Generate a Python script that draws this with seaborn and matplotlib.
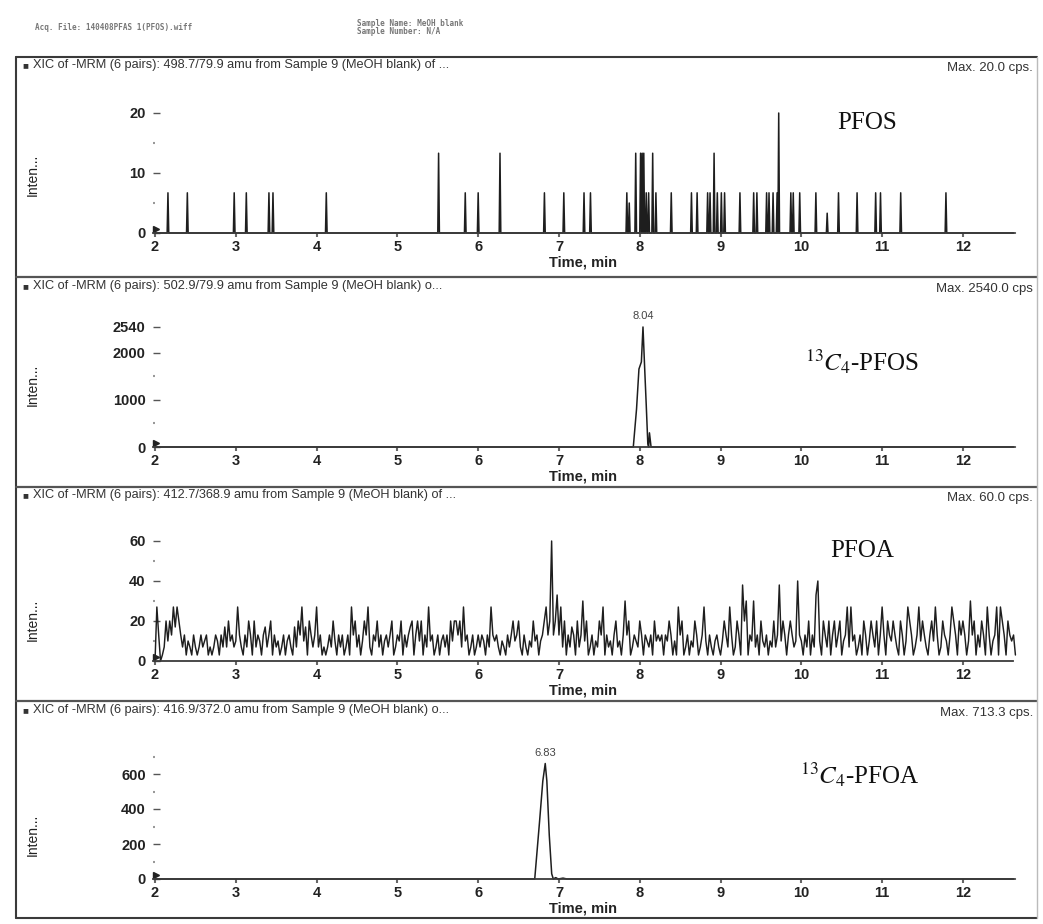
import numpy as np
import pandas as pd
import matplotlib
matplotlib.use("Agg")
import matplotlib.pyplot as plt
import seaborn as sns
from matplotlib.lines import Line2D

# ---------------- data ----------------
time_ticks = [2, 3, 4, 5, 6, 7, 8, 9, 10, 11, 12]
t_start, t_end = 2.0, 12.65

# PFOS (498.7/79.9): isolated single-scan spikes (time, cps)
pfos_spike_t = [2.16, 2.40, 2.98, 3.13, 3.41, 3.46, 4.12, 5.51, 5.84, 6.00, 6.27,
                6.82, 7.06, 7.31, 7.39, 7.84, 7.87, 7.95, 8.01, 8.03, 8.05, 8.08,
                8.11, 8.16, 8.20, 8.39, 8.64, 8.71, 8.84, 8.87, 8.92, 8.96, 9.01,
                9.05, 9.24, 9.41, 9.45, 9.57, 9.60, 9.65, 9.70, 9.72, 9.87, 9.90,
                9.98, 10.18, 10.32, 10.46, 10.69, 10.92, 10.98, 11.23, 11.79]
pfos_spike_h = [6.7, 6.7, 6.7, 6.7, 6.7, 6.7, 6.7, 13.3, 6.7, 6.7, 13.3,
                6.7, 6.7, 6.7, 6.7, 6.7, 5.0, 13.3, 13.3, 13.3, 13.3, 6.7,
                6.7, 13.3, 6.7, 6.7, 6.7, 6.7, 6.7, 6.7, 13.3, 6.7, 6.7,
                6.7, 6.7, 6.7, 6.7, 6.7, 6.7, 6.7, 6.7, 20.0, 6.7, 6.7,
                6.7, 6.7, 3.3, 6.7, 6.7, 6.7, 6.7, 6.7, 6.7]

# 13C4-PFOS (502.9/79.9)
pfos13_t = [2.00, 7.92, 7.96, 7.99, 8.02, 8.04, 8.06, 8.08, 8.10, 8.11, 8.12, 8.14, 12.65]
pfos13_y = [0, 0, 800, 1650, 1800, 2540, 1700, 900, 60, 0, 300, 0, 0]

# PFOA (412.7/368.9): noisy trace, one list per minute
pfoa_2 = [0, 27, 13, 0, 3, 7, 20, 10, 20, 13, 27, 17, 27, 20, 13, 7, 13, 3, 10, 7, 3, 13,
          7, 3, 7, 13, 7, 10, 13, 3, 7, 3, 7, 13, 10, 3, 13, 7, 17, 7, 20, 10, 13, 7]
pfoa_3 = [10, 27, 13, 7, 3, 13, 7, 20, 13, 3, 20, 7, 13, 10, 3, 13, 17, 7, 13, 20, 3, 13,
          7, 10, 3, 7, 13, 3, 10, 13, 7, 3, 17, 7, 20, 13, 27, 10, 17, 3, 20, 13, 7, 13]
pfoa_4 = [27, 7, 13, 3, 7, 3, 7, 13, 7, 20, 10, 3, 13, 7, 13, 3, 7, 13, 3, 27, 13, 20,
          7, 13, 3, 10, 20, 13, 27, 7, 3, 13, 10, 20, 7, 13, 3, 10, 13, 7, 13, 20, 3, 7]
pfoa_5 = [13, 10, 20, 3, 13, 7, 13, 17, 20, 3, 13, 20, 10, 20, 3, 13, 7, 27, 10, 13, 3, 7,
          13, 3, 10, 13, 7, 13, 3, 20, 10, 20, 20, 13, 20, 7, 27, 10, 13, 3, 7, 13, 3, 7]
pfoa_6 = [13, 7, 13, 10, 3, 13, 7, 27, 13, 10, 13, 7, 3, 10, 7, 3, 13, 7, 13, 20, 10, 13,
          20, 7, 3, 13, 7, 3, 10, 7, 20, 10, 13, 3, 10, 13, 20, 27, 13, 20, 60, 13, 20, 33]
pfoa_7 = [13, 27, 7, 20, 3, 13, 7, 17, 13, 3, 20, 7, 13, 30, 10, 20, 3, 7, 13, 3, 10, 7,
          20, 13, 27, 3, 13, 7, 10, 3, 13, 20, 7, 10, 3, 13, 30, 13, 20, 3, 7, 13, 10, 7]
pfoa_8 = [20, 13, 3, 13, 10, 7, 13, 3, 20, 10, 13, 10, 13, 3, 13, 10, 20, 13, 3, 10, 3, 27,
          13, 20, 3, 7, 13, 3, 10, 7, 20, 13, 3, 7, 13, 27, 10, 3, 13, 7, 3, 10, 13, 7]
pfoa_9 = [3, 10, 20, 13, 7, 27, 13, 3, 7, 20, 13, 3, 38, 20, 30, 3, 13, 10, 30, 7, 13, 3,
          20, 10, 7, 13, 3, 10, 7, 20, 7, 13, 38, 10, 20, 13, 3, 13, 20, 13, 7, 10, 40, 13]
pfoa_10 = [10, 3, 13, 7, 20, 3, 13, 7, 33, 40, 10, 3, 20, 13, 7, 20, 3, 13, 20, 7, 13, 20,
           3, 10, 13, 27, 7, 27, 10, 13, 3, 7, 13, 3, 20, 13, 3, 10, 20, 13, 7, 20, 3, 13]
pfoa_11 = [27, 13, 3, 20, 13, 10, 20, 13, 7, 3, 20, 13, 3, 10, 27, 20, 13, 3, 7, 13, 27, 10,
           20, 13, 7, 3, 13, 20, 10, 27, 13, 3, 7, 20, 13, 10, 3, 13, 27, 20, 13, 3, 20, 13]
pfoa_12 = [20, 13, 3, 10, 30, 13, 20, 3, 13, 7, 20, 13, 3, 27, 13, 3, 10, 13, 27, 3, 27, 20,
           13, 3, 20, 13, 10, 13, 3]

# 13C4-PFOA (416.9/372.0)
pfoa13_t = [2.00, 6.70, 6.76, 6.80, 6.83, 6.85, 6.88, 6.91, 6.93, 6.96, 6.99, 7.05, 7.10, 12.65]
pfoa13_y = [0, 0, 330, 560, 660, 560, 250, 30, 0, 8, 0, 5, 0, 0]

headers = [
    "XIC of -MRM (6 pairs): 498.7/79.9 amu from Sample 9 (MeOH blank) of ...",
    "XIC of -MRM (6 pairs): 502.9/79.9 amu from Sample 9 (MeOH blank) o...",
    "XIC of -MRM (6 pairs): 412.7/368.9 amu from Sample 9 (MeOH blank) of ...",
    "XIC of -MRM (6 pairs): 416.9/372.0 amu from Sample 9 (MeOH blank) o...",
]
max_labels = ["Max. 20.0 cps.", "Max. 2540.0 cps", "Max. 60.0 cps.", "Max. 713.3 cps."]
compound_labels = ["PFOS", r"$^{13}C_{4}$-PFOS", "PFOA", r"$^{13}C_{4}$-PFOA"]
peak_labels = [None, (8.04, 2540), None, (6.83, 660)]

# ---------------- build traces ----------------
w = 0.010
px, py = [t_start], [0.0]
for t, h in zip(pfos_spike_t, pfos_spike_h):
    px += [t - w, t, t + w]
    py += [0.0, h, 0.0]
px.append(t_end); py.append(0.0)
df_pfos = pd.DataFrame({"t": px, "y": py})

df_pfos13 = pd.DataFrame({"t": pfos13_t, "y": pfos13_y})

segs_t, segs_y = [], []
for m, vals in zip(range(2, 12), [pfoa_2, pfoa_3, pfoa_4, pfoa_5, pfoa_6, pfoa_7,
                                   pfoa_8, pfoa_9, pfoa_10, pfoa_11]):
    segs_t.append(np.linspace(m, m + 1, len(vals), endpoint=False))
    segs_y.append(np.array(vals, float))
segs_t.append(np.linspace(12, t_end, len(pfoa_12)))
segs_y.append(np.array(pfoa_12, float))
df_pfoa = pd.DataFrame({"t": np.concatenate(segs_t), "y": np.concatenate(segs_y)})

df_pfoa13 = pd.DataFrame({"t": pfoa13_t, "y": pfoa13_y})

# ---------------- style ----------------
sns.set_style("white")
plt.rcParams["font.family"] = ["Liberation Sans", "DejaVu Sans"]
plt.rcParams["mathtext.fontset"] = "stix"

W, H = 1043, 924
fig = plt.figure(figsize=(W / 100, H / 100), dpi=100)
fig.patch.set_facecolor("white")

def fx(x):
    return x / W

def fy(y):
    return 1 - y / H

left_px, right_px = 152.6, 1013.0
xlim = (1.97, 12.62)

panels = [
    (233, 101, (0, 22), [0, 10, 20], [5, 15], 0.44, 65),
    (447, 314.7, (0, 2800), [0, 1000, 2000, 2540], [500, 1500], 0.47, 286),
    (661, 531, (0, 65), [0, 20, 40, 60], [10, 30, 50], 0.32, 495),
    (879, 749.5, (0, 740), [0, 200, 400, 600], [100, 300, 500, 700], 0.34, 710),
]
dfs = [df_pfos, df_pfos13, df_pfoa, df_pfoa13]
lws = [1.1, 1.1, 1.05, 1.1]
label_pos = [(867, 123), (862, 362), (862, 551), (860, 775)]

line_col = "#1e1e1e"
for i, (base, top, ylim, yt, ymin, ylab_y, hy) in enumerate(panels):
    ax = fig.add_axes([fx(left_px), fy(base), fx(right_px - left_px), (base - top) / H])
    sns.lineplot(data=dfs[i], x="t", y="y", ax=ax, color=line_col, linewidth=lws[i],
                 estimator=None, sort=False, clip_on=False)
    ax.set_xlim(*xlim)
    ax.set_ylim(*ylim)
    ax.set_facecolor("none")
    for s in ["left", "top", "right"]:
        ax.spines[s].set_visible(False)
    ax.spines["bottom"].set_color("#3a3a3a")
    ax.spines["bottom"].set_linewidth(1.3)
    ax.set_xticks(time_ticks)
    ax.set_xticklabels([str(t) for t in time_ticks], fontsize=10.5, fontweight="bold",
                       color="#222222")
    ax.tick_params(axis="x", bottom=True, length=3, width=1.5, pad=2, color="#666666",
                   direction="out")
    ax.set_yticks(yt)
    ax.set_yticklabels([str(v) for v in yt], fontsize=10.5, fontweight="bold",
                       color="#222222")
    ax.tick_params(axis="y", left=True, length=5, width=1.0, pad=5, color="#555555",
                   direction="in")
    ax.set_yticks(ymin, minor=True)
    ax.tick_params(axis="y", which="minor", left=True, length=1.5, width=1.5,
                   color="#999999", direction="in")
    ax.set_xlabel("Time, min", fontsize=10.5, fontweight="bold", color="#222222",
                  labelpad=1)
    ax.set_ylabel("Inten...", fontsize=10, color="#222222")
    ax.yaxis.set_label_coords(-0.131, ylab_y)
    ax.grid(False)
    ax.plot([0.004], [0.03], marker=">", markersize=4.5, color="#222222",
            transform=ax.transAxes, clip_on=False)
    fig.text(fx(22), fy(hy), "\u25A0", fontsize=7, color="#333333", va="center")
    fig.text(fx(33), fy(hy), headers[i], fontsize=9.2, color="#333333", va="center")
    fig.text(fx(1033), fy(hy + 3), max_labels[i], fontsize=9.5, color="#333333",
             va="center", ha="right")
    fig.text(fx(label_pos[i][0]), fy(label_pos[i][1]), compound_labels[i],
             fontsize=18, family="Liberation Serif", ha="center", va="center",
             color="#111111")
    if peak_labels[i] is not None:
        pt, pv = peak_labels[i]
        ax.annotate(f"{pt:.2f}", xy=(pt, pv), xytext=(0, 4), textcoords="offset points",
                    ha="center", va="bottom", fontsize=8, color="#444444")

frame_kw = dict(transform=fig.transFigure, color="#3a3a3a", linewidth=1.5)
fig.add_artist(Line2D([fx(16), fx(16)], [fy(57), fy(918)], **frame_kw))
fig.add_artist(Line2D([fx(16), fx(1037)], [fy(57), fy(57)], **frame_kw))
for ysep in [277, 487, 701]:
    fig.add_artist(Line2D([fx(16), fx(1037)], [fy(ysep), fy(ysep)],
                          transform=fig.transFigure, color="#555555", linewidth=1.6))
fig.add_artist(Line2D([fx(16), fx(1037)], [fy(918), fy(918)], **frame_kw))
fig.add_artist(Line2D([fx(1037), fx(1037)], [fy(57), fy(918)],
                      transform=fig.transFigure, color="#bbbbbb", linewidth=1.0))

fig.text(fx(35), fy(28), "Acq. File: 140408PFAS 1(PFOS).wiff", fontsize=5.5,
         color="#777777", fontweight="bold", va="center", family="DejaVu Sans Mono")
fig.text(fx(357), fy(23), "Sample Name: MeOH blank", fontsize=5.5, color="#777777",
         fontweight="bold", va="center", family="DejaVu Sans Mono")
fig.text(fx(357), fy(32), "Sample Number: N/A", fontsize=5.5, color="#777777",
         fontweight="bold", va="center", family="DejaVu Sans Mono")

fig.savefig("out.png", dpi=100)
